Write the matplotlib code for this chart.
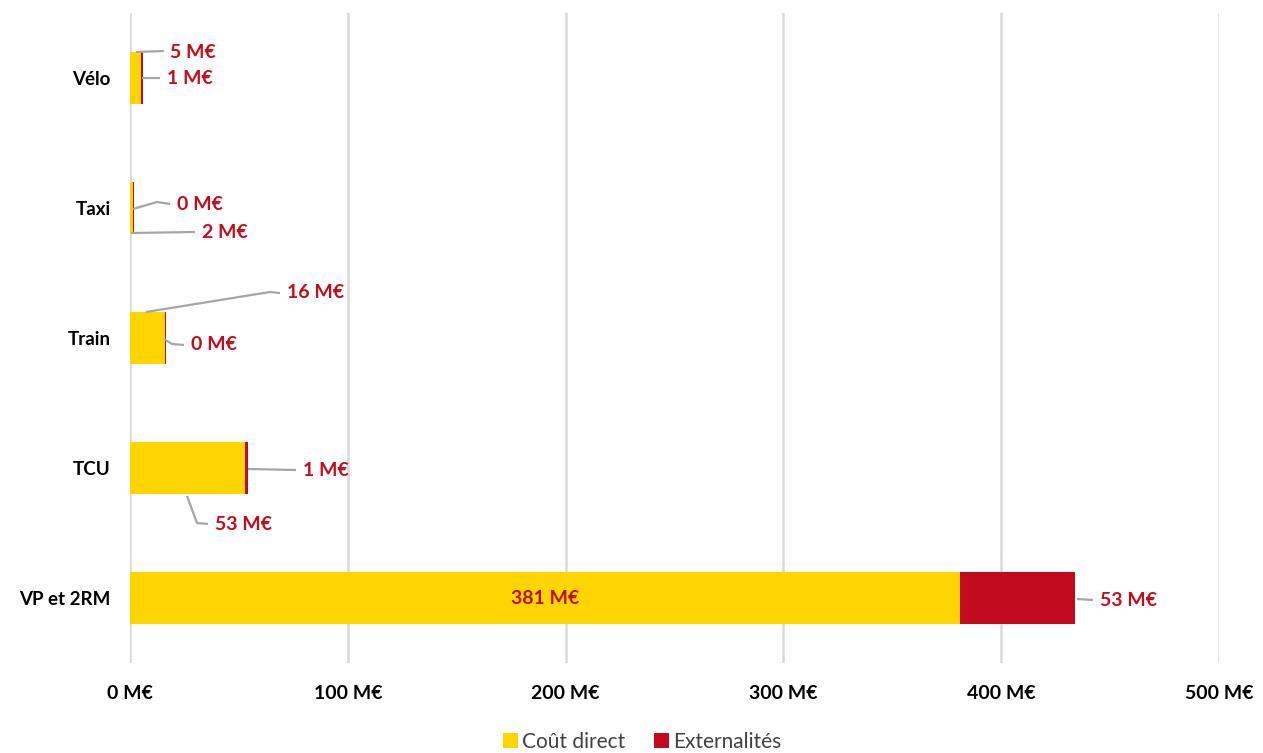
import matplotlib
matplotlib.use("Agg")
import matplotlib.pyplot as plt
import matplotlib.ticker as mticker

# ---------------- data ----------------
categories = ["VP et 2RM", "TCU", "Train", "Taxi", "Vélo"]
cout_direct = [381, 53, 16, 1.6, 5]
externalites = [53, 1.2, 0.5, 0.4, 1.0]
series_names = ["Coût direct", "Externalités"]
xticks = [0, 100, 200, 300, 400, 500]

YELLOW = "#FFD500"
RED = "#C30B1F"
LABEL_RED = "#C00D1E"
GRID = "#D9D9D9"
LEADER = "#A6A6A6"
FONT = "Lato"

W, H = 1263, 753
fig = plt.figure(figsize=(W / 100, H / 100), dpi=100)
ax = fig.add_axes([130 / W, 1 - 663 / H, (1219 - 130) / W, 650 / H])

y = list(range(len(categories)))
ax.barh(y, cout_direct, height=0.4, color=YELLOW, label=series_names[0], zorder=3)
ax.barh(y, externalites, left=cout_direct, height=0.4, color=RED,
        label=series_names[1], zorder=3)

ax.set_xlim(0, 500)
ax.set_ylim(-0.5, len(categories) - 0.5)
ax.set_xticks(xticks)
ax.xaxis.set_major_formatter(mticker.FuncFormatter(lambda v, p: f"{v:.0f} M€"))
ax.set_yticks(y)
ax.set_yticklabels(categories)
for s in ax.spines.values():
    s.set_visible(False)
ax.grid(axis="x", color=GRID, linewidth=1.8, zorder=0)
ax.tick_params(axis="both", length=0)
ax.tick_params(axis="x", pad=16)
ax.tick_params(axis="y", pad=14)
for lab in ax.get_xticklabels():
    lab.set_fontsize(14)
for lab in ax.get_yticklabels():
    lab.set_fontsize(13.5)
for lab in ax.get_xticklabels() + ax.get_yticklabels():
    lab.set_fontfamily(FONT)
    lab.set_fontweight("bold")
    lab.set_color("black")

# ---------------- data labels with leader lines (layout in pixels) ----------------
def px2data(px, py):
    return (px - 130) / ((1219 - 130) / 500), (598 - py) / 130

# (series index, category index, anchor px, corner px or None, text-left px, text y px)
label_layout = [
    (0, 4, (136, 52), (163, 51), 170, 52),
    (1, 4, (142, 78), None, 167, 78),
    (1, 3, (133, 209), (157, 202), 177, 204),
    (0, 3, (131, 233), None, 202, 232),
    (0, 2, (146, 312), (270, 292), 287, 293),
    (1, 2, (164, 339), (172, 344), 191, 345),
    (1, 1, (248, 469), None, 303, 470),
    (0, 1, (187, 496), (197, 523), 215, 524),
    (1, 0, (1077, 599), None, 1100, 600),
]
values = [cout_direct, externalites]
for si, ci, anchor, corner, tx, ty in label_layout:
    v = values[si][ci]
    pts = [anchor] + ([corner] if corner else []) + [(tx - 7, ty)]
    xs, ys = zip(*[px2data(*p) for p in pts])
    ax.plot(xs, ys, color=LEADER, lw=1.6, zorder=4, clip_on=False,
            solid_capstyle="butt")
    dx, dy = px2data(tx, ty)
    ax.text(dx, dy, f"{v:.0f} M€", ha="left", va="center", color=LABEL_RED,
            fontfamily=FONT, fontweight="bold", fontsize=14, zorder=5)

# inside label for VP direct cost
ax.text(cout_direct[0] / 2, 0, f"{cout_direct[0]:.0f} M€", ha="center", va="center",
        color=LABEL_RED, fontfamily=FONT, fontweight="bold", fontsize=14, zorder=5)

# ---------------- legend ----------------
leg = fig.legend(loc="center", bbox_to_anchor=(642 / W, 1 - 742 / H), ncol=2,
                 frameon=False, handlelength=0.7, handleheight=0.7,
                 handletextpad=0.2, columnspacing=1.4,
                 prop={"family": FONT, "size": 15})
for t in leg.get_texts():
    t.set_color("#404040")

fig.savefig("out.png", dpi=100)
